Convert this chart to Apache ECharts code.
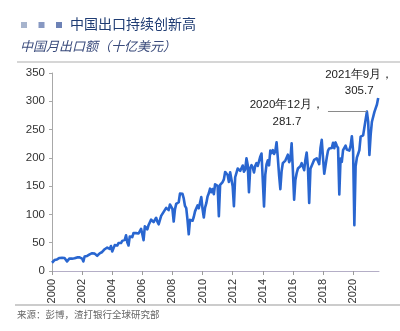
<!DOCTYPE html>
<html>
<head>
<meta charset="utf-8">
<script src="https://cdn.jsdelivr.net/npm/echarts@6/dist/echarts.min.js"></script>
<style>
  html, body { margin: 0; padding: 0; background: #fff; }
  #chart { width: 400px; height: 331px; }
</style>
</head>
<body>
<div id="chart"></div>
<script>
// China monthly exports, USD billions, Jan..Dec of each year
const years = [2000, 2001, 2002, 2003, 2004, 2005, 2006, 2007, 2008, 2009, 2010,
               2011, 2012, 2013, 2014, 2015, 2016, 2017, 2018, 2019, 2020, 2021];
const exports2000 = [14.6, 14.3, 19.3, 20.0, 20.5, 22.9, 23.1, 23.0, 23.3, 21.6, 23.1, 23.1];
const exports2001 = [16.9, 18.2, 22.2, 21.6, 21.8, 23.4, 22.4, 24.4, 24.0, 21.7, 24.2, 25.4];
const exports2002 = [22.0, 16.9, 25.6, 27.0, 26.6, 28.8, 29.3, 29.9, 31.5, 28.6, 30.7, 28.7];
const exports2003 = [26.9, 23.6, 31.2, 33.9, 33.6, 35.4, 38.5, 36.2, 41.5, 38.6, 39.0, 44.1];
const exports2004 = [34.4, 36.2, 45.7, 47.2, 45.0, 49.4, 50.0, 49.4, 53.2, 52.0, 55.0, 63.2];
const exports2005 = [50.7, 45.1, 61.1, 62.5, 59.9, 67.2, 66.4, 67.0, 68.5, 66.3, 69.0, 74.6];
const exports2006 = [64.9, 54.5, 79.0, 77.0, 73.6, 81.4, 80.3, 90.8, 91.8, 86.3, 90.4, 94.1];
const exports2007 = [87.2, 82.6, 83.6, 97.4, 94.0, 104.6, 107.9, 111.6, 112.9, 107.7, 117.6, 114.4];
const exports2008 = [109.6, 87.4, 108.9, 118.7, 120.5, 121.5, 136.7, 134.9, 136.4, 128.3, 115.0, 111.2];
const exports2009 = [90.5, 64.9, 90.3, 91.9, 88.8, 95.4, 105.4, 103.7, 115.9, 110.8, 113.6, 130.7];
const exports2010 = [109.5, 94.5, 112.1, 119.9, 131.8, 137.4, 145.5, 139.3, 144.9, 135.9, 153.3, 154.2];
const exports2011 = [150.7, 96.7, 152.2, 155.7, 157.2, 162.0, 175.1, 173.3, 169.7, 157.5, 174.5, 174.7];
const exports2012 = [149.9, 114.5, 165.7, 163.3, 181.1, 180.2, 176.9, 178.0, 186.4, 175.6, 179.4, 199.2];
const exports2013 = [187.4, 139.4, 182.0, 187.1, 182.8, 174.3, 186.0, 190.6, 185.6, 185.4, 202.2, 207.7];
const exports2014 = [207.1, 114.1, 170.1, 188.5, 195.5, 186.8, 212.9, 208.5, 213.7, 206.9, 211.7, 227.5];
const exports2015 = [200.0, 169.2, 144.6, 176.3, 190.8, 191.5, 195.2, 196.8, 205.6, 192.4, 197.2, 225.6];
const exports2016 = [177.5, 126.1, 160.8, 172.8, 181.1, 181.4, 185.0, 190.6, 184.5, 178.2, 196.8, 209.4];
const exports2017 = [182.8, 120.1, 180.6, 180.1, 191.3, 196.6, 193.6, 199.3, 198.1, 188.9, 217.5, 231.8];
const exports2018 = [200.5, 171.9, 174.0, 200.5, 212.8, 216.7, 215.8, 217.5, 226.7, 217.0, 227.3, 221.3];
const exports2019 = [217.6, 135.2, 198.7, 193.0, 213.8, 212.6, 221.5, 214.6, 218.1, 212.9, 221.7, 238.3];
const exports2020 = [212.0, 81.0, 185.1, 200.3, 206.8, 213.6, 237.6, 235.3, 239.8, 237.2, 268.1, 281.7];
const exports2021 = [264.0, 205.0, 241.1, 263.9, 263.9, 281.4, 282.7, 294.3, 305.7];

const yearlyExports = [exports2000, exports2001, exports2002, exports2003, exports2004,
  exports2005, exports2006, exports2007, exports2008, exports2009, exports2010,
  exports2011, exports2012, exports2013, exports2014, exports2015, exports2016,
  exports2017, exports2018, exports2019, exports2020, exports2021];

const xTickLabels = [2000, 2002, 2004, 2006, 2008, 2010, 2012, 2014, 2016, 2018, 2020];

// Callouts: [x (fractional year), value, caption]
const calloutDec2020 = [2020 + 11 / 12, 281.7, '2020年12月，'];
const calloutSep2021 = [2021 + 8 / 12, 305.7, '2021年9月，'];
const calloutLineStart = 2018.33;

// Flatten into [fractional year, value] points
const points = [];
years.forEach((y, i) => {
  yearlyExports[i].forEach((v, m) => points.push([y + m / 12, v]));
});

const chart = echarts.init(document.getElementById('chart'), null, { renderer: 'canvas' });

const sansLatin = '"Liberation Sans", Arial, sans-serif';
const cjk = '"Noto Sans CJK SC", "Noto Sans", sans-serif';

chart.setOption({
  backgroundColor: '#ffffff',
  animation: false,
  grid: { left: 52, right: 21, top: 73, bottom: 60, containLabel: false },
  xAxis: {
    type: 'value',
    min: 2000,
    max: 2021.72,
    interval: 2,
    axisLine: { show: true, lineStyle: { color: '#b4aec6', width: 1 } },
    axisTick: { show: true, length: 4, lineStyle: { color: '#9a9a9a' }, customValues: xTickLabels },
    splitLine: { show: false },
    axisLabel: {
      rotate: 90,
      margin: 8,
      fontSize: 11,
      fontFamily: sansLatin,
      color: '#333',
      customValues: xTickLabels,
      formatter: v => String(v)
    }
  },
  yAxis: {
    type: 'value',
    min: 0,
    max: 350,
    interval: 50,
    axisLine: { show: true, lineStyle: { color: '#a8a8a8', width: 1 } },
    axisTick: { show: true, length: 3, lineStyle: { color: '#a8a8a8' } },
    splitLine: { show: false },
    axisLabel: { margin: 7, fontSize: 11.5, fontFamily: sansLatin, color: '#333' }
  },
  series: [{
    type: 'line',
    data: points,
    showSymbol: false,
    symbol: 'none',
    lineStyle: { color: '#2966d0', width: 2.6, join: 'round' },
    markLine: {
      silent: true,
      symbol: 'none',
      label: { show: false },
      lineStyle: { color: '#8a8a8a', width: 1, type: 'solid' },
      data: [[
        { coord: [calloutLineStart, calloutDec2020[1]] },
        { coord: [calloutDec2020[0], calloutDec2020[1]] }
      ]]
    },
    markPoint: {
      silent: true,
      symbol: 'circle',
      symbolSize: 0,
      data: [
        {
          coord: [calloutDec2020[0], calloutDec2020[1]],
          label: {
            show: true,
            formatter: calloutDec2020[2] + '\n' + calloutDec2020[1].toFixed(1),
            offset: [-80, 2],
            align: 'center',
            verticalAlign: 'middle',
            lineHeight: 17,
            fontSize: 11.5,
            fontFamily: sansLatin,
            color: '#222'
          }
        },
        {
          coord: [calloutSep2021[0], calloutSep2021[1]],
          label: {
            show: true,
            formatter: calloutSep2021[2] + '\n' + calloutSep2021[1].toFixed(1),
            offset: [-19, -15],
            align: 'center',
            verticalAlign: 'middle',
            lineHeight: 16,
            fontSize: 11.5,
            fontFamily: sansLatin,
            color: '#222'
          }
        }
      ]
    }
  }],
  graphic: [
    { type: 'rect', shape: { x: 21, y: 22, width: 6, height: 6 }, style: { fill: '#a7b4cd' } },
    { type: 'rect', shape: { x: 38.5, y: 22, width: 6, height: 6 }, style: { fill: '#8798c2' } },
    { type: 'rect', shape: { x: 56, y: 22, width: 6, height: 6 }, style: { fill: '#6d82b6' } },
    {
      type: 'text', left: 70, top: 17,
      style: { text: '中国出口持续创新高', font: '14px ' + cjk, fill: '#1f3c73' }
    },
    {
      type: 'text', left: 20, top: 40,
      style: { text: '中国月出口额（十亿美元）', font: 'italic 13px ' + cjk, fill: '#3a4b7c' }
    },
    {
      type: 'line', shape: { x1: 17, y1: 62, x2: 400, y2: 62 },
      style: { stroke: '#c8c8c8', lineWidth: 1.5 }
    },
    {
      type: 'line', shape: { x1: 15, y1: 305, x2: 400, y2: 305 },
      style: { stroke: '#9a9a9a', lineWidth: 1.2 }
    },
    {
      type: 'text', left: 17, top: 310,
      style: { text: '来源：彭博，渣打银行全球研究部', font: '9.5px ' + cjk, fill: '#666' }
    }
  ]
});
</script>
</body>
</html>
